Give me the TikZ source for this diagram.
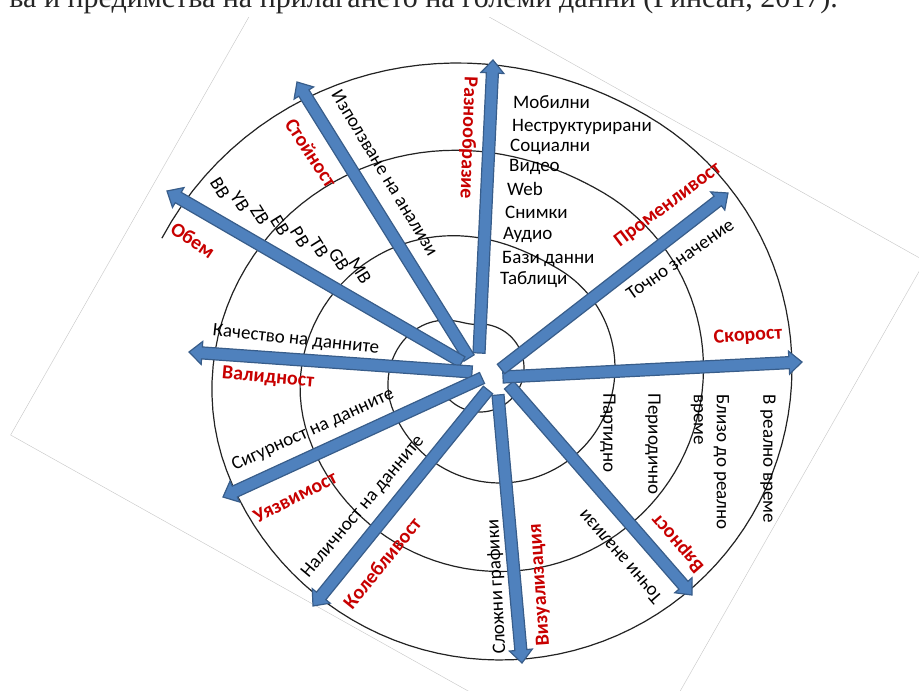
\documentclass[tikz,border=0pt]{standalone}
\usepackage{fontspec}
\setmainfont{Carlito}
\newfontfamily\capfont{Liberation Serif}
\usetikzlibrary{calc}
\definecolor{arrowfill}{RGB}{79,129,189}
\definecolor{arrowline}{RGB}{56,93,138}
\definecolor{lblred}{RGB}{200,0,0}
\definecolor{ringcol}{RGB}{35,35,35}

% block arrow from coordinate #1 (tail) to coordinate #2 (tip)
\newcommand\bluearrow[2]{%
  \coordinate (#2n) at ($(#2)!13pt!(#1)$);
  \filldraw[barrow] ($(#1)!6pt!90:(#2)$) -- ($(#2n)!6pt!90:(#2)$)
    -- ($(#2n)!11.5pt!90:(#2)$) -- (#2) -- ($(#2n)!11.5pt!-90:(#2)$)
    -- ($(#2n)!6pt!-90:(#2)$) -- ($(#1)!6pt!-90:(#2)$) -- cycle;
}

\begin{document}
\begin{tikzpicture}[x=1pt,y=-1pt,
  % spiral: the radius grows mainly in the upper-left quarter of each turn
  declare function={
    spn(\a)=floor((\a-60)/360);
    spo(\a)=35*(spn(\a)==0);
    spt(\a)=max(0,min((\a-60-360*spn(\a)-spo(\a))/(140-spo(\a)),1));
    sps(\a)=3*spt(\a)^2-2*spt(\a)^3;
    spm(\a)=spn(\a)+sps(\a);
    spr(\a)=44+71*min(spm(\a),1)+88.5*max(spm(\a)-1,0);
    spx(\a)=500-20*(1-min(spm(\a),1));
  },
  ring/.style={draw=ringcol, line width=1.2pt},
  barrow/.style={fill=arrowfill, draw=arrowline, line width=1.2pt, line join=miter},
  lbl/.style={font=\fontsize{19}{23}\selectfont, inner sep=0pt, text=black},
  dimlabel/.style={font=\fontsize{20}{24}\selectfont\bfseries, inner sep=0pt, text=lblred},
  frameline/.style={draw=gray!45, line width=0.4pt}
]
\useasboundingbox (0,0) rectangle (919,691);
\clip (0,0) rectangle (919,691);
\fill[white] (0,0) rectangle (919,691);

% edges of the tilted picture frame
\coordinate (fa) at (307,-85);
\coordinate (fb) at (925,261);
\coordinate (fc) at (629,781);
\coordinate (fd) at (10.6,435);
\begin{scope}
  \clip (0,17) rectangle (919,691);
  \draw[frameline] (fa) -- (fb) -- (fc) -- (fd) -- cycle;
\end{scope}

% caption line running above the figure
\node[font=\capfont\fontsize{30}{36}\selectfont, anchor=base east, inner sep=0pt, text=black!85]
  (cap) at (838,7) {ва и предимства на прилагането на големи данни (Ринсан, 2017).};

% spiral rings
\draw[ring] plot[domain=-140:1239, samples=460, variable=\a]
  ({spx(\a)+spr(\a)*cos(\a)}, {368-spr(\a)*sin(\a)});

% arrow ends at the hub and tips
\coordinate (s1) at (479,353);  \coordinate (t1) at (493,60);
\coordinate (s2) at (469,358);  \coordinate (t2) at (297,82);
\coordinate (s3) at (462,362);  \coordinate (t3) at (167,191);
\coordinate (s4) at (472,372);  \coordinate (t4) at (189,352);
\coordinate (s5) at (482,378);  \coordinate (t5) at (223,497);
\coordinate (s6) at (488,390);  \coordinate (t6) at (313,606);
\coordinate (s7) at (498,395);  \coordinate (t7) at (522,663);
\coordinate (s8) at (509,385);  \coordinate (t8) at (692,595);
\coordinate (s9) at (503,377);  \coordinate (t9) at (802,362);
\coordinate (s10) at (501,369); \coordinate (t10) at (728,193);

\bluearrow{s1}{t1}
\bluearrow{s2}{t2}
\bluearrow{s3}{t3}
\bluearrow{s4}{t4}
\bluearrow{s5}{t5}
\bluearrow{s6}{t6}
\bluearrow{s7}{t7}
\bluearrow{s8}{t8}
\bluearrow{s9}{t9}
\bluearrow{s10}{t10}

% dimension names
\node[dimlabel, rotate=-92] (variety) at (468,138) {Разнообразие};
\node[dimlabel, rotate=-57] (value) at (311,153) {Стойност};
\node[dimlabel, rotate=-34] (volume) at (193,240) {Обем};
\node[dimlabel, rotate=-5] (validity) at (268,378) {Валидност};
\node[dimlabel, rotate=27] (vulner) at (295,497) {Уязвимост};
\node[dimlabel, rotate=51] (volat) at (382,563) {Колебливост};
\node[dimlabel, rotate=94] (visual) at (540,585) {Визуализация};
\node[dimlabel, rotate=131] (verac) at (678,543) {Вярност};
\node[dimlabel, rotate=4] (veloc) at (748,336) {Скорост};
\node[dimlabel, rotate=37] (variab) at (668,205) {Променливост};

% values along each dimension
\node[lbl, rotate=-59] (use) at (385,173) {Използване на анализи};
\node[lbl, rotate=-58] (bb) at (220,188) {BB};
\node[lbl, rotate=-58] (yb) at (240,202) {YB};
\node[lbl, rotate=-58] (zb) at (260,215) {ZB};
\node[lbl, rotate=-58] (eb) at (280,226) {EB};
\node[lbl, rotate=-58] (pb) at (300,237) {PB};
\node[lbl, rotate=-58] (tb) at (319,248) {TB};
\node[lbl, rotate=-58] (gb) at (339,260) {GB};
\node[lbl, rotate=-58] (mb) at (360,271) {MB};

\node[lbl, anchor=west] (mob) at (513,102) {Мобилни};
\node[lbl, anchor=west] (unstr) at (512,127) {Неструктурирани};
\node[lbl, anchor=west] (soc) at (510,147) {Социални};
\node[lbl, anchor=west] (vid) at (509,167) {Видео};
\node[lbl, anchor=west] (web) at (507,189) {Web};
\node[lbl, anchor=west] (img) at (505,212) {Снимки};
\node[lbl, anchor=west] (aud) at (503,235) {Аудио};
\node[lbl, anchor=west] (db) at (502,259) {Бази данни};
\node[lbl, anchor=west] (tab) at (500,280) {Таблици};

\node[lbl, rotate=35] (exact) at (680,259) {Точно значение};
\node[lbl, rotate=-90] (batch) at (608,433) {Партидно};
\node[lbl, rotate=-90] (period) at (653,444) {Периодично};
\node[lbl, rotate=-90, align=left] (near) at (710,462) {Близо до реално\\време};
\node[lbl, rotate=-90] (real) at (768,459) {В реално време};
\node[lbl, rotate=131] (accur) at (620,557) {Точни анализи};
\node[lbl, rotate=93] (complex) at (497,587) {Сложни графики};
\node[lbl, rotate=50] (avail) at (363,507) {Наличност на данните};
\node[lbl, rotate=24.5] (secur) at (313,430) {Сигурност на данните};
\node[lbl, rotate=-6] (quality) at (296,340) {Качество на данните};
\end{tikzpicture}
\end{document}
